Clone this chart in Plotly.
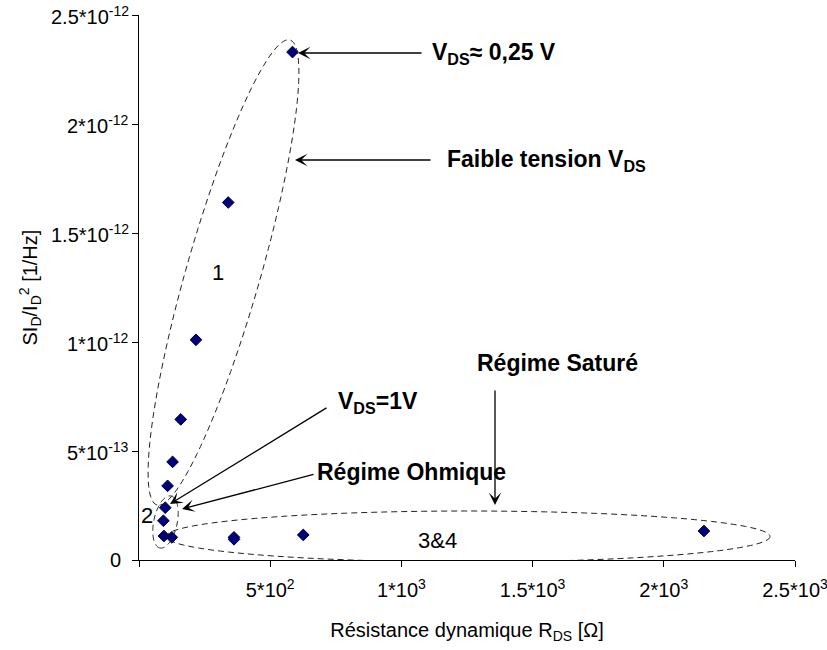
import numpy as np
import plotly.graph_objects as go

# ---- data ----
rds = [585, 340, 217, 159, 128, 109, 100, 93, 95, 125, 362, 362, 626, 2153]
si_norm = [2.33e-12, 1.64e-12, 1.01e-12, 0.645e-12, 0.45e-12, 0.34e-12, 0.24e-12,
           0.18e-12, 0.11e-12, 0.104e-12, 0.104e-12, 0.095e-12, 0.115e-12, 0.133e-12]

x_tickvals = [0, 500, 1000, 1500, 2000, 2500]
x_ticktext = ["", "5*10<sup>2</sup>", "1*10<sup>3</sup>", "1.5*10<sup>3</sup>",
              "2*10<sup>3</sup>", "2.5*10<sup>3</sup>"]
y_tickvals = [0, 0.5e-12, 1e-12, 1.5e-12, 2e-12, 2.5e-12]
y_ticktext = ["0", "5*10<sup>-13</sup>", "1*10<sup>-12</sup>", "1.5*10<sup>-12</sup>",
              "2*10<sup>-12</sup>", "2.5*10<sup>-12</sup>"]

X_RANGE = [0, 2500]
Y_RANGE = [0, 2.5e-12]

W, H = 827, 650
ML, MR, MT, MB = 139, 32, 15, 90

PX0, PX1 = ML, W - MR
PY0, PY1 = H - MB, MT

def dx(px):
    return X_RANGE[0] + (px - PX0) / (PX1 - PX0) * (X_RANGE[1] - X_RANGE[0])

def dy(py):
    return Y_RANGE[0] + (PY0 - py) / (PY0 - PY1) * (Y_RANGE[1] - Y_RANGE[0])

def paper_x(px):
    return (px - PX0) / (PX1 - PX0)

def ellipse_path(p1, p2, b, n=140):
    (x1, y1), (x2, y2) = p1, p2
    cx, cy = (x1 + x2) / 2, (y1 + y2) / 2
    a = np.hypot(x2 - x1, y2 - y1) / 2
    ang = np.arctan2(y2 - y1, x2 - x1)
    t = np.linspace(0, 2 * np.pi, n)
    xs = cx + a * np.cos(t) * np.cos(ang) - b * np.sin(t) * np.sin(ang)
    ys = cy + a * np.cos(t) * np.sin(ang) + b * np.sin(t) * np.cos(ang)
    pts = [f"{dx(x):.3f},{dy(y):.6e}" for x, y in zip(xs, ys)]
    return "M " + " L ".join(pts) + " Z"

fig = go.Figure()
fig.add_trace(go.Scatter(
    x=rds, y=si_norm, mode="markers",
    marker=dict(symbol="diamond", size=9, color="#000080",
                line=dict(color="#000033", width=1)),
    showlegend=False, cliponaxis=False))

dash_style = "6px,4px"
for p1, p2, b in [((290, 40), (157, 505), 37),
                  ((171, 496), (160, 548), 11.7),
                  ((166, 536.5), (770, 536.5), 25.5)]:
    fig.add_shape(type="path", path=ellipse_path(p1, p2, b), xref="x", yref="y",
                  line=dict(color="#222222", width=1, dash=dash_style),
                  fillcolor="rgba(0,0,0,0)", layer="above")

FONT = "Liberation Sans, Arial, sans-serif"

def arrow(tail, head):
    fig.add_annotation(x=dx(head[0]), y=dy(head[1]), ax=dx(tail[0]), ay=dy(tail[1]),
                       xref="x", yref="y", axref="x", ayref="y", text="",
                       showarrow=True, arrowhead=3, arrowsize=1.6, arrowwidth=1.3,
                       arrowcolor="black", standoff=0, startstandoff=0)

def label(text, px, py, bold=True, size=23, xanchor="left"):
    fig.add_annotation(x=dx(px), y=dy(py), xref="x", yref="y",
                       text=f"<b>{text}</b>" if bold else text, showarrow=False,
                       xanchor=xanchor, yanchor="middle",
                       font=dict(family=FONT, size=size, color="black"))

arrow((423, 53), (298, 53))
label("V<sub>DS</sub>≈ 0,25 V", 430, 53)
arrow((432, 160), (295, 160))
label("Faible tension V<sub>DS</sub>", 445, 160)
arrow((328, 407), (170, 504))
label("V<sub>DS</sub>=1V", 336, 402)
arrow((315, 474), (182, 509))
label("Régime Ohmique", 315, 472)
arrow((495, 389), (495, 505))
label("Régime Saturé", 475, 363)
label("1", 218, 272, bold=False, size=22, xanchor="center")
label("2", 147, 515, bold=False, size=22, xanchor="center")
label("3&amp;4", 437, 540, bold=False, size=22, xanchor="center")

# y-axis title as rotated text placed where the reference has it
fig.add_annotation(x=paper_x(30), y=0.5, xref="paper", yref="paper",
                   text="SI<sub>D</sub>/I<sub>D</sub><sup>2</sup> [1/Hz]", textangle=-90,
                   showarrow=False, xanchor="center", yanchor="middle",
                   font=dict(family=FONT, size=20, color="black"))

# y tick labels drawn as text at the tick values (right edge just left of the ticks)
for v, t in zip(y_tickvals, y_ticktext):
    right = 122 if t == "0" else 130
    fig.add_annotation(x=paper_x(right), y=v, xref="paper", yref="y", text=t,
                       showarrow=False, xanchor="right", yanchor="middle",
                       borderpad=0, font=dict(family=FONT, size=20, color="black"))

axis_common = dict(showline=True, linecolor="black", linewidth=1, ticks="outside",
                   ticklen=6, tickcolor="black", tickwidth=1, showgrid=False,
                   zeroline=False, tickmode="array",
                   tickfont=dict(family=FONT, size=20, color="black"))

fig.update_xaxes(range=X_RANGE, tickvals=x_tickvals, ticktext=x_ticktext,
                 title=dict(text="Résistance dynamique R<sub>DS</sub> [Ω]",
                            font=dict(family=FONT, size=20, color="black"), standoff=22),
                 ticklabelstandoff=6, ticklabeloverflow="allow", **axis_common)
fig.update_yaxes(range=Y_RANGE, tickvals=y_tickvals, showticklabels=False, **axis_common)

fig.update_layout(template="none", width=W, height=H,
                  margin=dict(l=ML, r=MR, t=MT, b=MB, autoexpand=False),
                  paper_bgcolor="white", plot_bgcolor="white",
                  font=dict(family=FONT, color="black"))

fig.write_html("out.html", config={"displayModeBar": False},
               post_script="document.body.style.margin='0px';")
